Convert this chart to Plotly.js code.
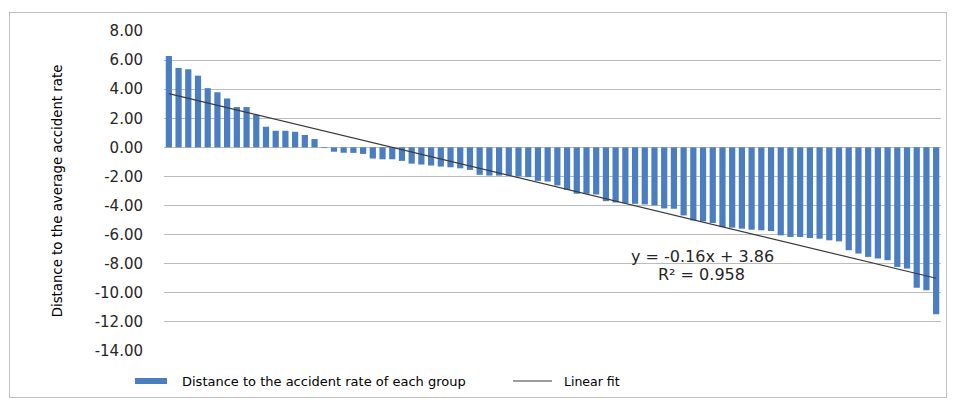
<!DOCTYPE html>
<html>
<head>
<meta charset="utf-8">
<script src="https://cdn.plot.ly/plotly-3.0.1.min.js"></script>
<style>
  html, body { margin: 0; padding: 0; background: #ffffff; }
  #wrap { position: relative; width: 955px; height: 403px; }
  #chart { position: absolute; left: 0; top: 0; width: 955px; height: 403px; }
  #frame { position: absolute; left: 9px; top: 12px; width: 938px; height: 386px; border: 1px solid #bfbfbf; box-sizing: border-box; pointer-events: none; }
</style>
</head>
<body>
<div id="wrap">
  <div id="chart"></div>
  <div id="frame"></div>
</div>
<script>
// Group index (1..80)
const groups = Array.from({length: 80}, (_, i) => i + 1);

// Distance to the accident rate of each group
const distances = [
  6.28, 5.46, 5.37, 4.93, 4.07, 3.79, 3.36, 2.77, 2.77, 2.24,
  1.42, 1.14, 1.14, 1.07, 0.85, 0.57, -0.05, -0.30, -0.37, -0.38,
  -0.45, -0.77, -0.82, -0.82, -0.93, -1.12, -1.18, -1.25, -1.32, -1.37,
  -1.44, -1.55, -1.89, -1.94, -1.94, -1.94, -1.99, -2.05, -2.30, -2.35,
  -2.62, -2.92, -3.19, -3.19, -3.24, -3.70, -3.79, -3.84, -3.88, -3.92,
  -3.99, -4.20, -4.22, -4.68, -5.02, -5.09, -5.20, -5.48, -5.52, -5.59,
  -5.66, -5.70, -5.75, -6.05, -6.16, -6.16, -6.23, -6.28, -6.39, -6.46,
  -7.07, -7.30, -7.53, -7.64, -7.76, -8.22, -8.33, -9.66, -9.82, -11.48
];

// Y axis ticks
const yTickVals = [8, 6, 4, 2, 0, -2, -4, -6, -8, -10, -12, -14];
const yTickText = ["8.00", "6.00", "4.00", "2.00", "0.00", "-2.00", "-4.00", "-6.00", "-8.00", "-10.00", "-12.00", "-14.00"];

// Text
const yTitle = "Distance to the average accident rate";
const barName = "Distance to the accident rate of each group";
const fitName = "Linear fit";
const fitEquation = "y = -0.16x + 3.86";
const fitR2 = "R² = 0.958";

// Least-squares linear fit of the data (trendline)
const n = groups.length;
const mx = groups.reduce((a, b) => a + b, 0) / n;
const my = distances.reduce((a, b) => a + b, 0) / n;
let sxy = 0, sxx = 0;
for (let i = 0; i < n; i++) { sxy += (groups[i] - mx) * (distances[i] - my); sxx += (groups[i] - mx) ** 2; }
const slope = sxy / sxx;
const intercept = my - slope * mx;
const fitX = [groups[0], groups[n - 1]];
const fitY = fitX.map(x => intercept + slope * x);

// Plot area in pixels
const W = 955, H = 403;
const L = 164, R = 14, T = 31, B = 52;
const pw = W - L - R, ph = H - T - B;
const px = x => (x - L) / pw;
const py = y => (H - B - y) / ph;

const font = "DejaVu Sans, sans-serif";

const traces = [
  {
    type: "bar", x: groups, y: distances, name: barName,
    marker: { color: "#4a7ec0", line: { width: 0 } },
    showlegend: false, hoverinfo: "x+y"
  },
  {
    type: "scatter", mode: "lines", x: fitX, y: fitY, name: fitName,
    line: { color: "#3a3a3a", width: 1.2 },
    showlegend: false, hoverinfo: "skip"
  }
];

const layout = {
  width: W, height: H,
  margin: { l: L, r: R, t: T, b: B, pad: 0 },
  paper_bgcolor: "#ffffff", plot_bgcolor: "#ffffff",
  bargap: 0.36,
  xaxis: {
    range: [0.5, 80.5], showticklabels: false, showgrid: false,
    zeroline: false, showline: false, ticks: "", fixedrange: true
  },
  yaxis: {
    range: [-14, 8], tickvals: yTickVals, ticktext: yTickText,
    showgrid: true, gridcolor: "#bcbcbc", gridwidth: 1,
    zeroline: true, zerolinecolor: "#bcbcbc", zerolinewidth: 1,
    showline: false, ticks: "", ticklen: 0,
    ticklabelstandoff: 20,
    tickfont: { family: font, size: 15, color: "#262626" },
    title: { text: yTitle, font: { family: font, size: 13.3, color: "#000000" }, standoff: 28 },
    automargin: false, fixedrange: true
  },
  shapes: [
    // legend swatches
    { type: "rect", xref: "paper", yref: "paper", x0: px(135), x1: px(167), y0: py(384), y1: py(378),
      fillcolor: "#4a7ec0", line: { width: 0 } },
    { type: "line", xref: "paper", yref: "paper", x0: px(513), x1: px(552), y0: py(381), y1: py(381),
      line: { color: "#3a3a3a", width: 1.2 } }
  ],
  annotations: [
    { xref: "paper", yref: "paper", x: px(180), y: py(381), xanchor: "left", yanchor: "middle",
      text: barName, showarrow: false, font: { family: font, size: 13, color: "#000000" } },
    { xref: "paper", yref: "paper", x: px(562), y: py(381), xanchor: "left", yanchor: "middle",
      text: fitName, showarrow: false, font: { family: font, size: 12.5, color: "#000000" } },
    { xref: "paper", yref: "paper", x: px(702), y: py(256), xanchor: "center", yanchor: "middle",
      text: fitEquation, showarrow: false, font: { family: font, size: 16, color: "#262626" } },
    { xref: "paper", yref: "paper", x: px(701), y: py(274), xanchor: "center", yanchor: "middle",
      text: fitR2, showarrow: false, font: { family: font, size: 16, color: "#262626" } }
  ]
};

Plotly.newPlot("chart", traces, layout, { displayModeBar: false, staticPlot: true });
</script>
</body>
</html>
